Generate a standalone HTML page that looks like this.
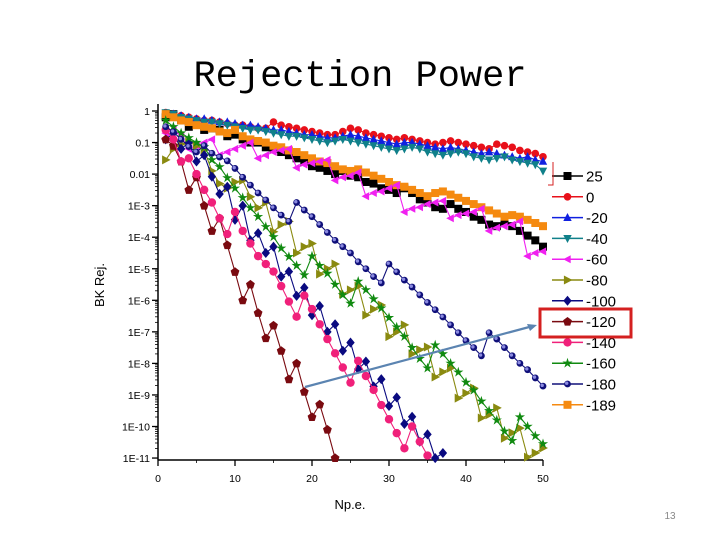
<!DOCTYPE html>
<html><head><meta charset="utf-8">
<style>
html,body{margin:0;padding:0;background:#fff;}
svg{display:block;font-family:"Liberation Sans",Arial,sans-serif;}
</style></head>
<body>
<svg id="chart" width="720" height="540" viewBox="0 0 720 540">
  <text x="360" y="86" text-anchor="middle" font-family="'Liberation Mono',monospace" font-size="37" fill="#000">Rejection Power</text>
  <g id="axes"></g>
  <g id="series"></g>
  <g id="legend"></g>
  <line x1="305" y1="387" x2="533" y2="326" stroke="#5b84b1" stroke-width="2.2"/>
  <polygon points="537,325 527,324 530,331" fill="#5b84b1"/>
  <rect x="540" y="309" width="91" height="28" fill="none" stroke="#d42020" stroke-width="3"/>
  <polyline points="553,162 553,185 548,185" fill="none" stroke="#d42020" stroke-width="1"/>
  <text x="104" y="285" transform="rotate(-90 104 285)" text-anchor="middle" font-size="13">BK Rej.</text>
  <text x="350" y="509" text-anchor="middle" font-size="13">Np.e.</text>
  <text x="670" y="519" text-anchor="middle" font-size="10" fill="#888">13</text>
</svg>
<script>
const xTicks = [0,10,20,30,40,50];
const yTickExps = [0,-1,-2,-3,-4,-5,-6,-7,-8,-9,-10,-11];
const yTickLabels = ["1","0.1","0.01","1E-3","1E-4","1E-5","1E-6","1E-7","1E-8","1E-9","1E-10","1E-11"];
const seriesNames = ["25","0","-20","-40","-60","-80","-100","-120","-140","-160","-180","-189"];
// log10 of rejection, for Np.e. = 1,2,3,...
const s25 = [-0.2,-0.1,-0.3,-0.5,-0.4,-0.6,-0.55,-0.6,-0.8,-0.75,-0.9,-1.0,-1.0,-1.15,-1.2,-1.3,-1.4,-1.5,-1.6,-1.75,-1.8,-1.9,-2.0,-1.9,-2.05,-2.1,-2.25,-2.3,-2.45,-2.5,-2.6,-2.45,-2.6,-2.8,-2.9,-3.05,-3.1,-2.95,-3.1,-3.2,-3.35,-3.45,-3.6,-3.65,-3.5,-3.65,-3.8,-3.95,-4.1,-4.3];
const s0 = [-0.05,-0.1,-0.15,-0.2,-0.25,-0.3,-0.3,-0.35,-0.4,-0.45,-0.45,-0.5,-0.55,-0.55,-0.35,-0.45,-0.5,-0.55,-0.6,-0.65,-0.7,-0.75,-0.75,-0.65,-0.55,-0.6,-0.7,-0.75,-0.8,-0.85,-0.9,-0.85,-0.9,-0.95,-1.0,-1.05,-1.0,-0.95,-1.0,-1.05,-1.1,-1.15,-1.2,-1.05,-1.1,-1.15,-1.25,-1.3,-1.35,-1.45];
const sM20 = [-0.1,-0.1,-0.15,-0.2,-0.25,-0.25,-0.3,-0.35,-0.35,-0.4,-0.45,-0.45,-0.5,-0.55,-0.6,-0.6,-0.65,-0.7,-0.75,-0.75,-0.8,-0.85,-0.85,-0.8,-0.75,-0.8,-0.85,-0.9,-0.95,-1.0,-1.05,-1.0,-1.0,-1.05,-1.1,-1.15,-1.2,-1.15,-1.2,-1.25,-1.3,-1.35,-1.3,-1.35,-1.4,-1.45,-1.5,-1.45,-1.55,-1.6];
const sM40 = [-0.05,-0.1,-0.2,-0.25,-0.3,-0.35,-0.35,-0.4,-0.45,-0.5,-0.55,-0.6,-0.6,-0.65,-0.7,-0.75,-0.8,-0.8,-0.85,-0.9,-0.95,-1.0,-0.95,-0.9,-0.95,-1.0,-1.05,-1.1,-1.15,-1.2,-1.25,-1.2,-1.15,-1.2,-1.3,-1.35,-1.4,-1.35,-1.3,-1.35,-1.45,-1.5,-1.55,-1.5,-1.45,-1.55,-1.6,-1.65,-1.7,-1.9];
const sM60 = [-0.7,-0.6,-0.8,-1.2,-1.1,-1.0,-0.9,-1.4,-1.3,-1.2,-1.1,-1.0,-1.5,-1.4,-1.3,-1.25,-1.2,-1.8,-1.7,-1.65,-1.6,-1.55,-2.2,-2.1,-2.05,-1.95,-2.7,-2.6,-2.55,-2.45,-2.35,-3.2,-3.1,-3.05,-2.95,-2.9,-2.85,-3.4,-3.3,-3.25,-3.2,-3.1,-3.8,-3.7,-3.65,-3.6,-3.5,-4.6,-4.5,-4.45];
const sM80 = [-1.55,-1.2,-1.05,-0.98,-1.1,-1.24,-1.9,-2.3,-2.45,-2.25,-2.2,-2.72,-3.07,-2.9,-3.83,-3.6,-3.5,-4.5,-4.3,-4.2,-5.17,-5.0,-4.85,-5.8,-5.67,-5.55,-6.47,-6.28,-6.15,-7.15,-7.0,-6.78,-7.7,-7.57,-7.48,-8.43,-8.27,-8.15,-9.1,-8.94,-8.78,-9.73,-9.63,-9.41,-10.37,-10.2,-10.05,-10.97,-10.84,-10.68];
const sM100 = [-0.9,-0.7,-1.2,-1.0,-1.6,-1.4,-2.08,-2.63,-2.4,-3.45,-3.0,-4.1,-3.87,-4.5,-4.3,-5.25,-5.09,-5.86,-5.6,-6.47,-6.18,-7.0,-6.76,-7.6,-7.34,-8.18,-7.94,-8.73,-8.5,-9.35,-9.08,-9.92,-9.69,-10.48,-10.25,-11.0,-10.84];
const sM120 = [-0.9,-1.1,-1.6,-2.5,-2.1,-3.0,-3.8,-3.4,-4.25,-5.1,-6.0,-5.5,-6.4,-7.2,-6.8,-7.6,-8.5,-8.0,-8.9,-9.7,-9.3,-10.1,-11.0];
const sM140 = [-0.6,-0.9,-1.6,-1.5,-2.0,-2.5,-2.9,-3.4,-3.9,-3.2,-3.8,-4.2,-4.6,-4.85,-5.09,-5.55,-6.04,-6.52,-5.85,-6.28,-6.76,-7.23,-7.68,-8.13,-8.61,-7.92,-8.40,-8.84,-9.32,-9.77,-10.21,-10.69,-10.0,-10.48,-10.92];
const sM160 = [-0.3,-0.5,-0.7,-0.85,-1.0,-1.14,-1.55,-1.77,-2.12,-2.45,-2.75,-3.07,-3.35,-3.67,-3.99,-4.35,-4.62,-4.9,-5.2,-4.6,-4.9,-5.15,-5.5,-5.83,-6.1,-5.4,-5.67,-5.96,-6.25,-6.55,-6.85,-7.15,-7.5,-7.85,-8.15,-7.42,-7.7,-8.0,-8.28,-8.6,-8.85,-9.2,-9.5,-9.8,-10.15,-10.45,-9.7,-10.0,-10.3,-10.55];
const sM180 = [-0.5,-0.66,-0.9,-1.13,-1.3,-1.1,-1.34,-1.46,-1.58,-1.82,-2.1,-2.35,-2.6,-2.82,-3.07,-3.3,-3.5,-2.9,-3.14,-3.35,-3.6,-3.85,-4.1,-4.3,-4.5,-4.78,-5.0,-5.25,-5.45,-4.85,-5.1,-5.36,-5.58,-5.83,-6.07,-6.3,-6.53,-6.78,-7.03,-7.28,-7.5,-7.76,-7.03,-7.23,-7.5,-7.76,-8.0,-8.2,-8.46,-8.72];
const sM189 = [-0.1,-0.2,-0.3,-0.35,-0.45,-0.5,-0.55,-0.65,-0.7,-0.6,-0.8,-0.9,-0.95,-1.0,-1.1,-1.15,-1.25,-1.3,-1.4,-1.5,-1.6,-1.65,-1.75,-1.85,-1.9,-1.85,-1.95,-2.05,-2.15,-2.25,-2.35,-2.4,-2.5,-2.6,-2.7,-2.6,-2.55,-2.65,-2.75,-2.85,-2.95,-3.05,-3.15,-3.25,-3.35,-3.3,-3.35,-3.45,-3.55,-3.65];

const X0=158, X1=543, Y0=111, DEC=31.55, YB=460;
const xs = v => X0 + (v/50)*(X1-X0);
const ys = e => Y0 - e*DEC;
const NS="http://www.w3.org/2000/svg";
function mk(tag, attrs, parent){const e=document.createElementNS(NS,tag);for(const k in attrs)e.setAttribute(k,attrs[k]);parent.appendChild(e);return e;}

const axes=document.getElementById('axes');
const ax1=mk('line',{x1:X0,y1:104,x2:X0,y2:YB,stroke:'#000','stroke-width':1.5},axes);


const ax2=mk('line',{x1:X0,y1:YB,x2:X1,y2:YB,stroke:'#000','stroke-width':1.5},axes);


yTickExps.forEach((e,i)=>{
  const y=ys(e);
  const t=mk('line',{x1:X0-6,y1:y,x2:X0,y2:y,stroke:'#000','stroke-width':1.3},axes);
  
  
  if(i<yTickExps.length-1){for(let m=2;m<10;m+=1){const yy=ys(e-1+Math.log10(m));mk('line',{x1:X0-3,y1:yy,x2:X0,y2:yy,stroke:'#000','stroke-width':0.8},axes);}}
  const l=mk('text',{x:X0-8,y:y+4,'text-anchor':'end','font-size':10.5},axes);
  l.textContent=yTickLabels[i];
  
  
});
xTicks.forEach(v=>{
  const x=xs(v);
  const t=mk('line',{x1:x,y1:YB,x2:x,y2:YB+6,stroke:'#000','stroke-width':1.3},axes);
  
  
  if(v<50){mk('line',{x1:xs(v+5),y1:YB,x2:xs(v+5),y2:YB+3,stroke:'#000','stroke-width':0.8},axes);}
  const l=mk('text',{x:x,y:482,'text-anchor':'middle','font-size':10.5},axes);
  l.textContent=String(v);
  
  
});

const seriesData=[s25,s0,sM20,sM40,sM60,sM80,sM100,sM120,sM140,sM160,sM180,sM189];
const colors=['#000000','#e8101a','#1020e0','#10808a','#f020f0','#8a8a10','#0a0a80','#7a0a10','#f0207a','#108a10','#10107a','#f58a10'];
const markers=['square','circle','tri-up','tri-down','tri-left','tri-right','diamond','pentagon','circle','star','circle2','square'];
const msize=[4,3.8,4.2,4.2,4,4.5,4.2,4.2,4.2,4.5,3.4,4];

function marker(g,type,x,y,r,c){
  let el;
  const poly=pts=>mk('polygon',{points:pts.map(p=>(x+p[0]*r).toFixed(1)+','+(y+p[1]*r).toFixed(1)).join(' '),fill:c},g);
  if(type==='square') el=mk('rect',{x:x-r,y:y-r,width:2*r,height:2*r,fill:c},g);
  else if(type==='circle') el=mk('circle',{cx:x,cy:y,r:r,fill:c},g);
  else if(type==='circle2'){el=mk('circle',{cx:x,cy:y,r:r,fill:c},g);mk('circle',{cx:x-0.8,cy:y-0.8,r:r*0.5,fill:'#8a8ae0'},g);}
  else if(type==='tri-up') el=poly([[0,-1.1],[1,0.8],[-1,0.8]]);
  else if(type==='tri-down') el=poly([[0,1.1],[1,-0.8],[-1,-0.8]]);
  else if(type==='tri-left') el=poly([[-1.1,0],[0.8,-1],[0.8,1]]);
  else if(type==='tri-right') el=poly([[1.1,0],[-0.8,-1],[-0.8,1]]);
  else if(type==='diamond') el=poly([[0,-1.2],[1,0],[0,1.2],[-1,0]]);
  else if(type==='pentagon') el=poly([[0,-1.1],[1.05,-0.3],[0.65,0.95],[-0.65,0.95],[-1.05,-0.3]]);
  else if(type==='star'){const p=[];for(let k=0;k<10;k++){const a=-Math.PI/2+k*Math.PI/5;const rr=k%2?0.45:1.2;p.push([rr*Math.cos(a),rr*Math.sin(a)]);}el=poly(p);}
  return el;
}

const sg=document.getElementById('series');
const drawOrder=[0,1,2,3,11,4,5,6,7,8,9,10];
drawOrder.forEach(i=>{
  const data=seriesData[i];
  const g=mk('g',{},sg);
  
  
  const pts=data.map((v,k)=>xs(k+1).toFixed(1)+','+ys(Math.max(v,-11)).toFixed(1)).join(' ');
  const pl=mk('polyline',{points:pts,fill:'none',stroke:colors[i],'stroke-width':1.1},g);
  
  
  data.forEach((v,k)=>{
    const m=marker(g,markers[i],xs(k+1),ys(Math.max(v,-11)),msize[i],colors[i]);
    
    
  });
});

const lg=document.getElementById('legend');
seriesNames.forEach((n,i)=>{
  const y=176+i*20.8;
  const g=mk('g',{},lg);
  
  
  mk('line',{x1:552,y1:y,x2:583,y2:y,stroke:colors[i],'stroke-width':1.5},g);
  marker(g,markers[i],567.5,y,msize[i],colors[i]);
  const t=mk('text',{x:586,y:y+5.5,'font-size':15},g);
  t.textContent=n;
});
</script>
</body></html>
